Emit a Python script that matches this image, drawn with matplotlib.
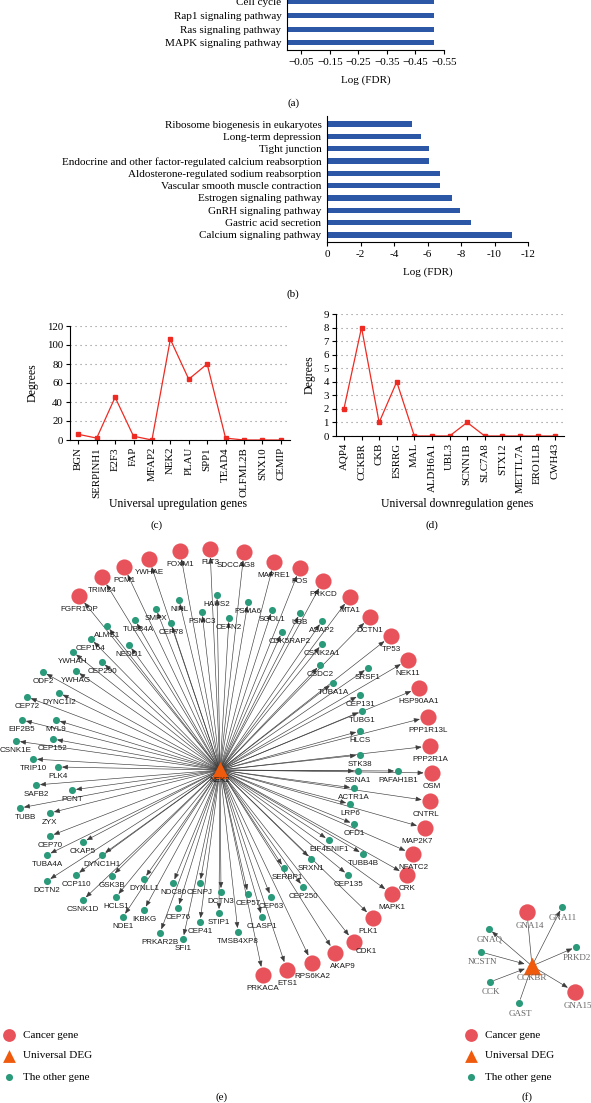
import matplotlib
matplotlib.use("Agg")
import matplotlib.pyplot as plt

plt.rcParams['font.family'] = 'Liberation Serif'

W, H = 591, 1103

# (a) KEGG pathways (only the lower part is visible)
path_a = ["MAPK signaling pathway", "Ras signaling pathway", "Rap1 signaling pathway", "Cell cycle"]
fdr_a = [-0.515, -0.515, -0.515, -0.515]
ticks_a = [-0.05, -0.15, -0.25, -0.35, -0.45, -0.55]

# (b)
path_b = ["Calcium signaling pathway", "Gastric acid secretion", "GnRH signaling pathway",
          "Estrogen signaling pathway", "Vascular smooth muscle contraction",
          "Aldosterone-regulated sodium reabsorption",
          "Endocrine and other factor-regulated calcium reabsorption", "Tight junction",
          "Long-term depression", "Ribosome biogenesis in eukaryotes"]
fdr_b = [-11.05, -8.62, -7.92, -7.47, -6.77, -6.72, -6.09, -6.09, -5.64, -5.05]
ticks_b = [0, -2, -4, -6, -8, -10, -12]

# (c) / (d) degrees
up_genes = ["BGN", "SERPINH1", "E2F3", "FAP", "MFAP2", "NEK2", "PLAU", "SPP1", "TEAD4",
            "OLFML2B", "SNX10", "CEMIP"]
up_deg = [6, 2, 45, 4, 0, 106, 64, 80, 2, 0, 0, 0]
down_genes = ["AQP4", "CCKBR", "CKB", "ESRRG", "MAL", "ALDH6A1", "UBL3", "SCNN1B", "SLC7A8",
              "STX12", "METTL7A", "ERO1LB", "CWH43"]
down_deg = [2, 8, 1, 4, 0, 0, 0, 1, 0, 0, 0, 0, 0]

# (e) NEK2 network, node layout in picture coordinates
hub_e = ("NEK2", 220, 770)
red_e = ["FGFR1OP", "TRIM24", "PCM1", "YWHAE", "FOXM1", "FLT3", "SDCCAG8", "MAPRE1", "FOS",
         "PRKCD", "MTA1", "DCTN1", "TP53", "NEK11", "HSP90AA1", "PPP1R13L", "PPP2R1A", "OSM",
         "CNTRL", "MAP2K7", "NFATC2", "CRK", "MAPK1", "PLK1", "CDK1", "AKAP9", "RPS6KA2",
         "ETS1", "PRKACA"]
red_x = [79, 102, 124, 149, 180, 210, 244, 274, 300, 323, 350, 370, 391, 408, 419, 428, 430,
         432, 430, 425, 413, 407, 392, 373, 354, 335, 312, 287, 263]
red_y = [596, 577, 567, 559, 551, 549, 552, 562, 568, 581, 597, 617, 636, 660, 688, 717, 746,
         773, 801, 828, 854, 875, 894, 918, 942, 953, 963, 970, 975]
green_e = ["HAUS2", "NINL", "SMPX", "PSMC3", "PSMA6", "CETN2", "SGOL1", "UBB", "ASAP2",
           "CDK5RAP2", "CSNK2A1", "CSDC2", "SRSF1", "TUBA1A", "CEP131", "TUBG1", "HLCS",
           "STK38", "SSNA1", "PAFAH1B1", "ACTR1A", "LRP6", "OFD1", "EIF4ENIF1", "TUBB4B",
           "SRXN1", "CEP135", "SERBP1", "CEP250", "CEP57", "CEP63", "CLASP1", "TMSB4XP8",
           "STIP1", "DCTN3", "CENPJ", "NDC80", "CEP41", "CEP76", "SFI1", "PRKAR2B", "IKBKG",
           "NDE1", "DYNLL1", "HCLS1", "GSK3B", "CSNK1D", "CCP110", "DYNC1H1", "CKAP5",
           "DCTN2", "TUBA4A", "CEP70", "ZYX", "TUBB", "PCNT", "SAFB2", "PLK4", "TRIP10",
           "CEP152", "CSNK1E", "MYL9", "EIF2B5", "CEP72", "DYNC1I2", "ODF2", "YWHAG",
           "YWHAH", "CEP290", "CEP164", "NEDD1", "ALMS1", "TUBB4A", "CEP78"]
green_x = [217, 179, 156, 202, 248, 229, 272, 300, 322, 282, 322, 320, 368, 333, 360, 362,
           360, 360, 358, 398, 354, 350, 354, 329, 363, 311, 348, 284, 303, 248, 271, 262,
           238, 219, 221, 200, 173, 200, 178, 183, 160, 144, 123, 144, 116, 112, 83, 76,
           102, 83, 47, 47, 50, 50, 20, 72, 36, 58, 33, 53, 16, 56, 22, 27, 59, 43, 76, 73,
           102, 91, 129, 107, 135, 171]
green_y = [595, 600, 609, 612, 602, 618, 610, 613, 621, 632, 644, 665, 668, 683, 695, 711,
           731, 755, 771, 771, 788, 804, 824, 840, 854, 859, 875, 868, 887, 894, 897, 917,
           932, 913, 892, 883, 883, 922, 908, 939, 933, 910, 917, 879, 897, 876, 900, 875,
           855, 842, 881, 855, 836, 813, 808, 790, 785, 767, 759, 739, 741, 720, 720, 697,
           693, 672, 671, 652, 662, 639, 645, 626, 620, 623]
label_shift = {"SDCCAG8": (-8, 0), "CDK1": (12, -4), "AKAP9": (8, 0), "RPS6KA2": (0, 0),
               "CDK5RAP2": (8, 0), "TUBB": (5, 0), "SERBP1": (3, 0), "MAP2K7": (-8, 0),
               "CNTRL": (-4, 0), "PLK1": (-5, 0), "TUBB4A": (3, 0)}

# (f) CCKBR network
hub_f = ("CCKBR", 532, 966)
red_f = ["GNA14", "GNA15"]
red_fx = [527, 575]
red_fy = [912, 992]
green_f = ["GNA11", "GNAQ", "PRKD2", "NCSTN", "CCK", "GAST"]
green_fx = [562, 489, 576, 481, 490, 519]
green_fy = [907, 929, 947, 952, 982, 1003]
into_hub_f = ["NCSTN", "CCK"]
plain_f = ["GAST", "GNA14"]

BLUE = "#2b57a6"
LINE = "#ee2b22"
RED = "#e8525a"
GREEN = "#2a9a7a"
ORANGE = "#f05a0c"

fig = plt.figure(figsize=(W / 100, H / 100), dpi=100)


def px_rect(l, t, r, b):
    return [l / W, 1 - b / H, (r - l) / W, (b - t) / H]


def bar_panel(rect, names, vals, ticks, ylim, xlim, height, fmt):
    ax = fig.add_axes(rect)
    ax.barh(range(len(names)), vals, height=height, color=BLUE)
    ax.set_yticks(range(len(names)), names, fontsize=8)
    ax.set_ylim(*ylim)
    ax.set_xlim(*xlim)
    ax.set_xticks(ticks, [fmt(t) for t in ticks], fontsize=8)
    ax.tick_params(axis='y', length=0, pad=4)
    ax.tick_params(axis='x', length=3, width=0.8, pad=3)
    for s in ["top", "right"]:
        ax.spines[s].set_visible(False)
    for s in ["left", "bottom"]:
        ax.spines[s].set_linewidth(0.8)
    return ax


ax_a = bar_panel(px_rect(287, 0, 444, 50), path_a, fdr_a, ticks_a, (-0.53, 3.12), (0, -0.545),
                 0.37, lambda t: "\u2212%.2f" % abs(t))
ax_a.set_xlabel("Log (FDR)", fontsize=8, va="center")
ax_a.xaxis.set_label_coords(0.5, -0.6)

ax_b = bar_panel(px_rect(327, 116, 528, 242), path_b, fdr_b, ticks_b, (-0.57, 9.65), (0, -12),
                 0.43, lambda t: "%d" % t if t == 0 else "-%d" % abs(t))
ax_b.set_xlabel("Log (FDR)", fontsize=8, va="center")
ax_b.xaxis.set_label_coords(0.5, -0.238)


def degree_panel(rect, genes, deg, ymax, ystep, xlabel, ylab_x, xlab_y, xlab_x=0.5):
    ax = fig.add_axes(rect)
    ax.plot(range(len(genes)), deg, color=LINE, lw=0.9, marker="s", ms=2.2)
    ax.set_xlim(-0.45, len(genes) - 0.5)
    ax.set_ylim(0, ymax)
    ax.set_yticks(range(0, ymax + 1, ystep))
    ax.set_xticks(range(len(genes)), genes, rotation=90)
    ax.tick_params(labelsize=7.8, length=3, width=0.8, pad=2)
    ax.yaxis.grid(True, ls=(0, (1, 3.5)), color="#888888", lw=0.8)
    ax.set_axisbelow(True)
    for s in ["top", "right"]:
        ax.spines[s].set_visible(False)
    ax.set_ylabel("Degrees", fontsize=8.5, va="center")
    ax.yaxis.set_label_coords(ylab_x, 0.5)
    ax.set_xlabel(xlabel, fontsize=8.5, va="center")
    ax.xaxis.set_label_coords(xlab_x, xlab_y)
    return ax


degree_panel(px_rect(70, 326, 290, 440), up_genes, up_deg, 120, 20,
             "Universal upregulation genes", -0.168, -0.56, 0.49)
degree_panel(px_rect(336, 314, 564, 436), down_genes, down_deg, 9, 1,
             "Universal downregulation genes", -0.114, -0.555, 0.53)

# network canvas in picture coordinates
net = fig.add_axes([0, 0, 1, 1])
net.set_xlim(0, W)
net.set_ylim(H, 0)
net.axis("off")
net.patch.set_visible(False)

EDGE = "#3c3c3c"


def arrow(p_from, p_to, shrink_to, shrink_from=0, style="-|>"):
    net.annotate("", xy=p_to, xytext=p_from,
                 arrowprops=dict(arrowstyle=style + (",head_length=0.35,head_width=0.14" if style != "-" else ""),
                                 color=EDGE, lw=0.45, shrinkA=shrink_from, shrinkB=shrink_to),
                 zorder=2)


hx, hy = hub_e[1], hub_e[2]
for x, y in zip(red_x, red_y):
    arrow((hx, hy), (x, y), 6.0)
for x, y in zip(green_x, green_y):
    arrow((hx, hy), (x, y), 2.8)

net.scatter(red_x, red_y, s=135, color=RED, zorder=4, linewidths=0)
net.scatter(green_x, green_y, s=26, color=GREEN, zorder=4, linewidths=0)
net.scatter([hx], [hy], s=150, marker="^", color=ORANGE, zorder=5, linewidths=0)

sans = dict(family="Liberation Sans", fontsize=5.8, color="#1a1a1a", ha="center", va="center", zorder=6)
for n, x, y in zip(red_e, red_x, red_y):
    dx, dy = label_shift.get(n, (0, 0))
    net.text(x + dx, y + 13.5 + dy, n, **sans)
for n, x, y in zip(green_e, green_x, green_y):
    dx, dy = label_shift.get(n, (0, 0))
    net.text(x + dx, y + 9.5 + dy, n, **sans)
net.text(hx, hy + 11, hub_e[0], **sans)

# (f)
fx, fy = hub_f[1], hub_f[2]
for n, x, y in zip(red_f + green_f, red_fx + green_fx, red_fy + green_fy):
    r = 6.0 if n in red_f else 2.8
    if n in into_hub_f:
        arrow((x, y), (fx, fy), 5.5, shrink_from=r)
    elif n in plain_f:
        arrow((fx, fy), (x, y), r, style="-")
    else:
        arrow((fx, fy), (x, y), r)
net.scatter(red_fx, red_fy, s=140, color=RED, zorder=4, linewidths=0)
net.scatter(green_fx, green_fy, s=26, color=GREEN, zorder=4, linewidths=0)
net.scatter([fx], [fy], s=160, marker="^", color=ORANGE, zorder=5, linewidths=0)
serif_lab = dict(fontsize=6.5, color="#666666", ha="center", va="center", zorder=6)
for n, x, y in zip(red_f, red_fx, red_fy):
    net.text(x + 3, y + 14, n, **serif_lab)
for n, x, y in zip(green_f, green_fx, green_fy):
    net.text(x + 1, y + 10.5, n, **serif_lab)
net.text(fx, fy + 12, hub_f[0], **serif_lab)

# legends
legend_items = ["Cancer gene", "Universal DEG", "The other gene"]
for lx in (9, 471):
    net.scatter([lx], [1035], s=85, color=RED, linewidths=0)
    net.scatter([lx], [1056], s=85, marker="^", color=ORANGE, linewidths=0)
    net.scatter([lx], [1077], s=26, color=GREEN, linewidths=0)
    for i, t in enumerate(legend_items):
        net.text(lx + 14, 1035 + 21 * i, t, fontsize=8, va="center", ha="left")

# panel letters
for t, x, y in [("(a)", 294, 103), ("(b)", 293, 294), ("(c)", 157, 525), ("(d)", 432, 525),
                ("(e)", 222, 1097), ("(f)", 527, 1097)]:
    net.text(x, y, t, fontsize=8, ha="center", va="center")

fig.savefig("out.png", dpi=100)
